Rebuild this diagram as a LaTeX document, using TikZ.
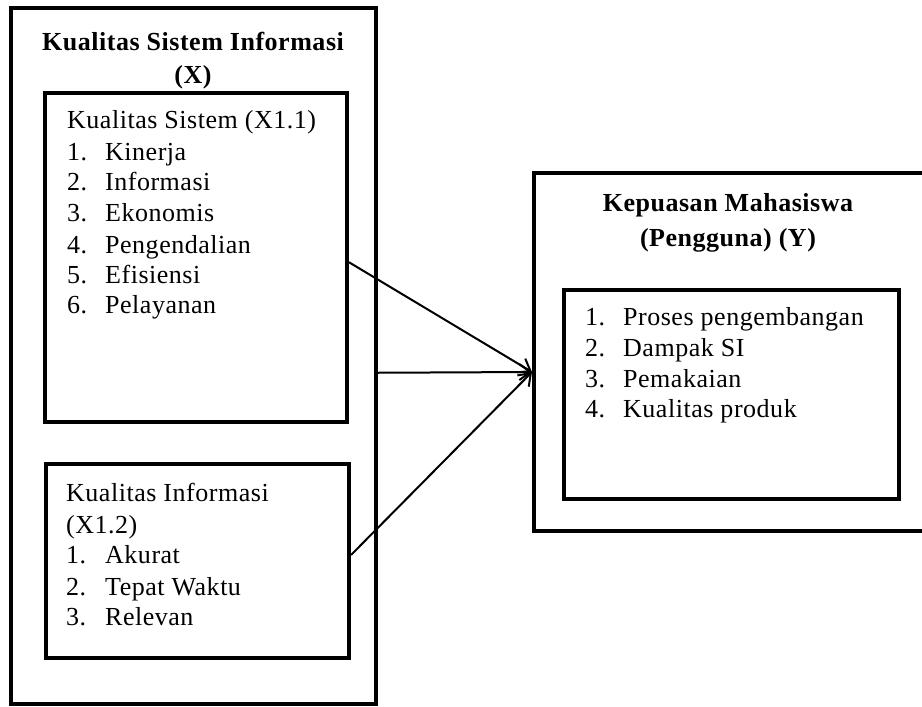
\documentclass[tikz,border=0pt]{standalone}
\usepackage{fontspec}
\setmainfont{Liberation Serif}[LetterSpace=2]
\usetikzlibrary{arrows.meta}
\begin{document}
\begin{tikzpicture}[x=1pt,y=-1pt,
  box/.style={draw, line width=4pt, inner sep=0pt},
  lbl/.style={anchor=base west, inner sep=0pt, font=\fontsize{26}{31}\selectfont},
  ttl/.style={anchor=base, inner sep=0pt, font=\fontsize{26}{31}\selectfont\bfseries},
  conn/.style={line width=2pt, -{Straight Barb[length=11pt,width=16pt,line width=2pt]}}]
\useasboundingbox (0,0) rectangle (922,707);
\clip (0,0) rectangle (922,707);
% boxes
\node[box, minimum width=365.5pt, minimum height=696.5pt] (X) at (193.25,355.75) {};
\node[box, minimum width=302pt, minimum height=329.5pt] (X11) at (196,257.25) {};
\node[box, minimum width=303.5pt, minimum height=194pt] (X12) at (197.25,561) {};
\node[box, minimum width=394pt, minimum height=358pt] (Y) at (731,351.5) {};
\node[box, minimum width=335.5pt, minimum height=209.5pt] (Y1) at (731.25,394.25) {};
% titles
\node[ttl] (tx1) at (193,50) {Kualitas Sistem Informasi};
\node[ttl] (tx2) at (193,83) {(X)};
\node[ttl] (ty1) at (728,211) {Kepuasan Mahasiswa};
\node[ttl] (ty2) at (728,246) {(Pengguna) (Y)};
% box X1.1
\node[lbl] (h11) at (67,128) {Kualitas Sistem (X1.1)};
\node[lbl] (n111) at (67,160) {1.};  \node[lbl] (t111) at (105,160) {Kinerja};
\node[lbl] (n112) at (67,190) {2.};  \node[lbl] (t112) at (105,190) {Informasi};
\node[lbl] (n113) at (67,221) {3.};  \node[lbl] (t113) at (105,221) {Ekonomis};
\node[lbl] (n114) at (67,253) {4.};  \node[lbl] (t114) at (105,253) {Pengendalian};
\node[lbl] (n115) at (67,283) {5.};  \node[lbl] (t115) at (105,283) {Efisiensi};
\node[lbl] (n116) at (67,313) {6.};  \node[lbl] (t116) at (105,313) {Pelayanan};
% box X1.2
\node[lbl] (h12a) at (66,501) {Kualitas Informasi};
\node[lbl] (h12b) at (66,533) {(X1.2)};
\node[lbl] (n121) at (66,563) {1.};  \node[lbl] (t121) at (105,563) {Akurat};
\node[lbl] (n122) at (66,595) {2.};  \node[lbl] (t122) at (105,595) {Tepat Waktu};
\node[lbl] (n123) at (66,625) {3.};  \node[lbl] (t123) at (105,625) {Relevan};
% box Y
\node[lbl] (n1) at (585,325) {1.};  \node[lbl] (m1) at (623,325) {Proses pengembangan};
\node[lbl] (n2) at (585,356) {2.};  \node[lbl] (m2) at (623,356) {Dampak SI};
\node[lbl] (n3) at (585,387) {3.};  \node[lbl] (m3) at (623,387) {Pemakaian};
\node[lbl] (n4) at (585,417) {4.};  \node[lbl] (m4) at (623,417) {Kualitas produk};
% connectors
\draw[conn] ([yshift=-5pt]X11.east) -- ([yshift=-20.5pt]Y.west);
\draw[conn] ([yshift=-17pt]X.east) -- ([yshift=-20.5pt]Y.west);
\draw[conn] ([yshift=6pt]X12.east) -- ([yshift=-20.5pt]Y.west);
\end{tikzpicture}
\end{document}
